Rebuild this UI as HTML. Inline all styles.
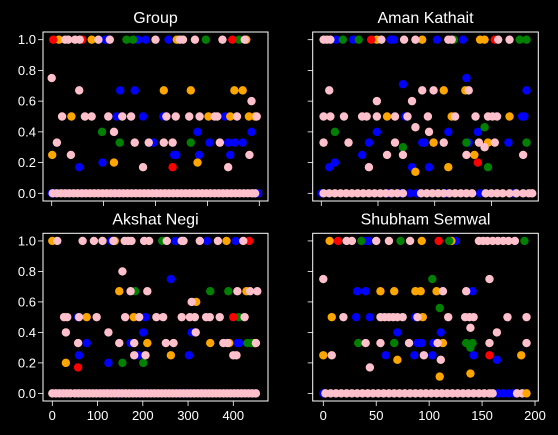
<!DOCTYPE html>
<html><head><meta charset="utf-8"><style>
html,body{margin:0;padding:0;background:#000;}
svg{display:block;font-family:"Liberation Sans","DejaVu Sans",sans-serif;}
</style></head><body>
<svg id="chart" width="558" height="435" viewBox="0 0 558 435"></svg>
<script>
// ---- Group panel ----
const groupPinkX=[0,10,20,37,53,64,77,120,109,136,153,160,176,187,221,239,216,233,265,285,314,319,324,357,340,385,381,395, 26,32,45,54,90,112,200,247,253,276,329,372];
const groupPinkY=[0.75,0.33,0.5,0.25,0.67,0.5,0.5,0.4,0.5,0.5,0.5,0.33,0.17,0.33,0.5,0.5,0.33,0.33,0.5,0.5,0.5,0.5,0.33,0.5,0.17,0.6,0.25,0.5, 1,1,1,1,1,1,1,1,1,1,1,1];
const groupOrangeX=[1,38,120,216,268,281,302,344,352,368,380,392, 14,77,241,375];
const groupOrangeY=[0.25,0.5,0.2,0.67,0.67,0.2,0.5,0.5,0.67,0.67,0.5,0.5, 1,1,1,1];
const groupGreenX=[97,131,268, 144,157,297,361];
const groupGreenY=[0.4,0.33,0.33, 1,1,1,1];
const groupBlueX=[53,98,125,132,160,176,196,215,236,240,281,284,304,334,344,340,353,368,385, 103,108,166,181,225];
const groupBlueY=[0.17,0.2,0.5,0.67,0.67,0.5,0.33,0.5,0.25,0.25,0.4,0.25,0.33,0.5,0.25,0.33,0.33,0.33,0.4, 1,1,1,1,1];
const groupRedX=[233, 3,59,348];
const groupRedY=[0.17, 1,1,1];
const groupBaseBlue=[0,5,30,60,120,200,330,390,398];
const groupBasePink=[2,10,18,26,34,42,50,58,66,74,82,90,98,106,114,122,130,138,146,154,162,170,178,186,194,202,210,218,226,234,242,250,258,266,274,282,290,298,306,314,322,330,338,346,354,362,370,378,386,392];

// ---- Aman Kathait panel ----
const amanPinkX=[7,89,99,130,49,80,2,8,20,36,40,49,65,76,94,118,136,147,151,155,83,95,2,24,65,108,139,153,144,58,72,128,178,42, 2,5,8,53,73,83,112,115,156,166];
const amanPinkY=[0.67,0.67,0.67,0.67,0.6,0.6,0.5,0.5,0.5,0.5,0.5,0.5,0.5,0.5,0.5,0.5,0.5,0.5,0.5,0.5,0.43,0.4,0.33,0.33,0.33,0.33,0.33,0.33,0.3,0.25,0.25,0.25,0.25,0.17, 1,1,1,1,1,1,1,1,1,1];
const amanOrangeX=[108,127,58,115,166,99,147,135,112,83, 49,89,140,144];
const amanOrangeY=[0.67,0.67,0.5,0.5,0.5,0.33,0.33,0.25,0.17,0.14, 1,1,1,1];
const amanGreenX=[12,144,128,181,72,147, 19,33,117,175,181];
const amanGreenY=[0.4,0.43,0.33,0.33,0.3,0.17, 1,1,1,1,1];
const amanBlueX=[128,72,181,74,177,179,12,7,49,112,138,42,89,91,130,165,36,80,95, 13,28,61,64,102,125];
const amanBlueY=[0.75,0.71,0.67,0.5,0.5,0.5,0.2,0.17,0.4,0.4,0.4,0.33,0.33,0.33,0.33,0.33,0.25,0.17,0.17, 1,1,1,1,1,1];
const amanRedX=[138, 44,153];
const amanRedY=[0.2, 1,1];
const amanBaseBlue=[0,60,70,78,84,110,140,170];
const amanBasePink=[2,7,12,17,22,27,32,37,42,47,52,57,62,67,72,88,93,98,103,108,113,118,123,128,133,145,150,155,160,166,172,178,183,186];

// ---- Akshat Negi panel ----
const akshatPinkX=[155,173,210,409,437,453,308,26,33,59,98,161,192,230,245,286,304,315,340,348,370,425,30,124,317,57,148,181,251,268,378,387,450,181,206,400,407, 11,67,92,111,135,160,168,175,203,214,253,286,290,326,366,422];
const akshatPinkY=[0.8,0.67,0.67,0.67,0.67,0.67,0.6,0.5,0.5,0.5,0.5,0.5,0.5,0.5,0.5,0.5,0.5,0.5,0.5,0.5,0.5,0.5,0.4,0.4,0.4,0.33,0.33,0.33,0.33,0.33,0.33,0.33,0.33,0.25,0.25,0.25,0.25, 1,1,1,1,1,1,1,1,1,1,1,1,1,1,1,1];
const akshatOrangeX=[148,429,318,76,180,210,349,391,447,262,30, 0,138,385];
const akshatOrangeY=[0.67,0.67,0.6,0.5,0.5,0.33,0.33,0.33,0.33,0.25,0.2, 1,1,1];
const akshatGreenX=[183,349,389,412,431,440,155,201, 243];
const akshatGreenY=[0.67,0.67,0.67,0.5,0.33,0.33,0.2,0.2, 1];
const akshatBlueX=[262,57,206,201,308,76,173,409,413,59,190,302,124, 130,272,342,405];
const akshatBlueY=[0.75,0.5,0.5,0.4,0.4,0.33,0.33,0.33,0.33,0.25,0.25,0.25,0.2, 1,1,1,1];
const akshatRedX=[400,57, 435];
const akshatRedY=[0.5,0.17, 1];
const akshatBaseBlue=[10,40,120,150,190,210,280,300,330,420,450];
const akshatBasePink=[0,8,16,24,32,40,50,58,66,74,82,90,98,106,114,122,130,138,146,154,162,170,178,186,194,202,210,218,226,234,242,250,258,266,274,282,290,298,306,314,322,330,338,346,354,362,370,378,386,394,402,410,418,426,434,442,450];

// ---- Shubham Semwal panel ----
const shubhamPinkX=[0,157,113,135,19,54,58,62,66,70,75,89,118,134,138,142,174,192,139,164,40,54,81,108,157,192,8,95,111,44, 22,27,50,62,82,147,151,155,160,165,170,175,181];
const shubhamPinkY=[0.75,0.75,0.67,0.67,0.5,0.5,0.5,0.5,0.5,0.5,0.5,0.5,0.5,0.5,0.5,0.5,0.5,0.5,0.43,0.4,0.33,0.33,0.33,0.33,0.33,0.33,0.25,0.25,0.22,0.17, 1,1,1,1,1,1,1,1,1,1,1,1,1];
const shubhamOrangeX=[54,67,87,92,107,8,94,113,0,187,70,139,110, 6,93,121];
const shubhamOrangeY=[0.67,0.67,0.67,0.67,0.67,0.5,0.5,0.33,0.25,0.25,0.22,0.13,0.11, 1,1,1];
const shubhamGreenX=[103,110,33,67,135,141,139, 36,73,119,190];
const shubhamGreenY=[0.75,0.56,0.33,0.33,0.33,0.33,0.3, 1,1,1,1];
const shubhamBlueX=[32,40,141,31,44,87,70,111,89,93,104,59,86,103,142,164, 40,43,125];
const shubhamBlueY=[0.67,0.67,0.67,0.5,0.5,0.5,0.4,0.4,0.33,0.33,0.33,0.25,0.25,0.25,0.25,0.22, 1,1,1];
const shubhamRedX=[157, 14,109];
const shubhamRedY=[0.25, 1,1];
const shubhamBaseBlue=[0,165,170,175,180];
const shubhamBasePink=[2,7,12,17,22,27,32,37,42,47,52,57,62,67,72,77,82,87,92,97,102,107,112,117,122,127,132,137,142,147,152,157,160,183,188];
const shubhamBaseOrange=[192];

const COLORS={r:"#ff0000",o:"#ffa500",g:"#008000",b:"#0000ff",p:"#ffc0cb"};
const NS="http://www.w3.org/2000/svg";
const svg=document.getElementById("chart");
function mk(tag,attrs,parent){const e=document.createElementNS(NS,tag);for(const k in attrs)e.setAttribute(k,attrs[k]);(parent||svg).appendChild(e);return e;}

const panels=[
 {title:"Group",name:"group",left:43,top:32,w:225,h:169,x0:51.7,px:0.519,xt:[0,100,200,300,400],showX:false,showY:true,
  series:[["b",groupBlueX,groupBlueY],["o",groupOrangeX,groupOrangeY],["g",groupGreenX,groupGreenY],["r",groupRedX,groupRedY],["p",groupPinkX,groupPinkY]],
  bb:groupBaseBlue,bp:groupBasePink,bo:[]},
 {title:"Aman Kathait",name:"aman-kathait",left:312.7,top:32,w:225.6,h:169,x0:321.3,px:1.134,xt:[0,50,100,150],showX:false,showY:false,
  series:[["b",amanBlueX,amanBlueY],["o",amanOrangeX,amanOrangeY],["g",amanGreenX,amanGreenY],["r",amanRedX,amanRedY],["p",amanPinkX,amanPinkY]],
  bb:amanBaseBlue,bp:amanBasePink,bo:[]},
 {title:"Akshat Negi",name:"akshat-negi",left:43,top:233.3,w:225,h:167.7,x0:52.3,px:0.4525,xt:[0,100,200,300,400],showX:true,showY:true,
  series:[["b",akshatBlueX,akshatBlueY],["o",akshatOrangeX,akshatOrangeY],["g",akshatGreenX,akshatGreenY],["r",akshatRedX,akshatRedY],["p",akshatPinkX,akshatPinkY]],
  bb:akshatBaseBlue,bp:akshatBasePink,bo:[]},
 {title:"Shubham Semwal",name:"shubham-semwal",left:312.7,top:233.3,w:225.6,h:167.7,x0:323.3,px:1.0585,xt:[0,50,100,150,200],showX:true,showY:false,
  series:[["b",shubhamBlueX,shubhamBlueY],["o",shubhamOrangeX,shubhamOrangeY],["g",shubhamGreenX,shubhamGreenY],["r",shubhamRedX,shubhamRedY],["p",shubhamPinkX,shubhamPinkY]],
  bb:shubhamBaseBlue,bp:shubhamBasePink,bo:shubhamBaseOrange}
];
const yTicks=[0,0.2,0.4,0.6,0.8,1.0];

panels.forEach(p=>{
 const g=mk("g",{});
 
 
 const yScale=v=>p.top+p.h-(v+0.05)/1.1*p.h;
 const xScale=v=>p.x0+v*p.px;
 const t=mk("text",{x:p.left+p.w/2,y:p.top-9,"text-anchor":"middle","font-size":"16",fill:"#fff"},g);
 t.textContent=p.title;
 
 
 const dots=mk("g",{},g);
 
 
 const dot=(x,y,c)=>{const d=mk("circle",{cx:xScale(x),cy:yScale(y),r:4.2,fill:COLORS[c]},dots);
  
  };
 p.bb.forEach(x=>dot(x,0,"b"));
 p.bp.forEach(x=>dot(x,0,"p"));
 p.bo.forEach(x=>dot(x,0,"o"));
 p.series.forEach(s=>{for(let i=0;i<s[1].length;i++)dot(s[1][i],s[2][i],s[0]);});
 const frame=mk("rect",{x:p.left,y:p.top,width:p.w,height:p.h,fill:"none",stroke:"#fff","stroke-width":1},g);
 
 
 yTicks.forEach(v=>{
  const y=yScale(v);
  mk("line",{x1:p.left-5,x2:p.left,y1:y,y2:y,stroke:"#fff","stroke-width":0.8},g);
  if(p.showY){const l=mk("text",{x:p.left-7,y:y+4.5,"text-anchor":"end","font-size":"13",fill:"#fff"},g);
   l.textContent=v.toFixed(1);
   
   }
 });
 p.xt.forEach(v=>{
  const x=xScale(v);
  mk("line",{x1:x,x2:x,y1:p.top+p.h,y2:p.top+p.h+5,stroke:"#fff","stroke-width":0.8},g);
  if(p.showX){const l=mk("text",{x:x,y:p.top+p.h+19,"text-anchor":"middle","font-size":"13",fill:"#fff"},g);
   l.textContent=String(v);
   
   }
 });
});
</script>
</body></html>
